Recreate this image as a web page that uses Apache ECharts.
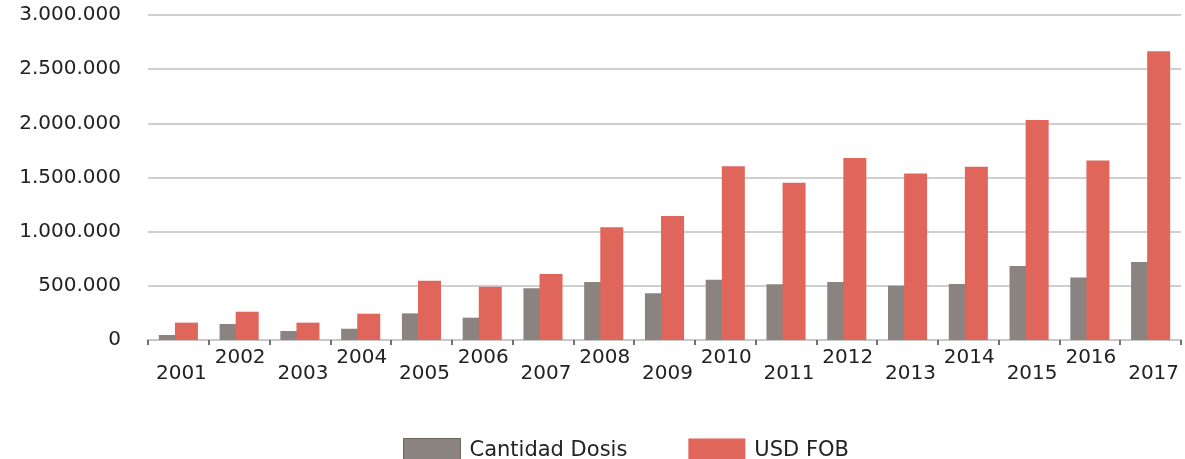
<!DOCTYPE html>
<html><head><meta charset="utf-8">
<script src="https://cdn.jsdelivr.net/npm/echarts@6/dist/echarts.min.js"></script>
<style>html,body{margin:0;padding:0;background:#fff}#c{width:1185px;height:459px}</style>
</head><body><div id="c"></div>
<script>
const categories = ['2001','2002','2003','2004','2005','2006','2007','2008','2009','2010','2011','2012','2013','2014','2015','2016','2017'];
const cantidadDosis = [46000,148000,83000,104000,246000,206000,477000,535000,431000,556000,514000,535000,501000,517000,683000,578000,720000];
const usdFob = [160000,261000,160000,243000,547000,492000,609000,1040000,1144000,1605000,1451000,1679000,1538000,1599000,2030000,1658000,2666000];
const seriesNames = ['Cantidad Dosis','USD FOB'];
const yTicks = [0,500000,1000000,1500000,2000000,2500000,3000000];

const font = 'DejaVu Sans';
const fmt = v => String(v).replace(/\B(?=(\d{3})+(?!\d))/g, '.');
const chart = echarts.init(document.getElementById('c'));
chart.setOption({
  animation: false,
  grid: {left: 148, right: 4, top: 15, bottom: 119},
  xAxis: {
    type: 'category', data: categories,
    axisLine: {lineStyle: {color: '#c8c8c8', width: 2}},
    axisTick: {show: true, length: 5, lineStyle: {color: '#444', width: 1.5}},
    axisLabel: {
      interval: 0, margin: 6, color: '#222', fontFamily: font, fontSize: 20,
      formatter: (v, i) => i % 2 === 0 ? '{lo|' + v + '}' : '{hi|' + v + '}',
      rich: {
        lo: {fontFamily: font, fontSize: 20, color: '#222', padding: [18, 0, 0, 6]},
        hi: {fontFamily: font, fontSize: 20, color: '#222', padding: [2, 0, 0, 2]}
      }
    }
  },
  yAxis: {
    type: 'value', min: yTicks[0], max: yTicks[yTicks.length-1], interval: 500000,
    axisLine: {show: false}, axisTick: {show: false},
    splitLine: {lineStyle: {color: '#cfcfcf', width: 2}},
    axisLabel: {margin: 27, color: '#222', fontFamily: font, fontSize: 20, formatter: fmt}
  },
  legend: {
    top: 438, left: 403, padding: 0, itemWidth: 57, itemHeight: 24, itemGap: 61, icon: 'rect',
    textStyle: {fontFamily: font, fontSize: 21, color: '#222', padding: [0,0,0,4], verticalAlign: 'top', lineHeight: 16},
    data: [
      {name: seriesNames[0], itemStyle: {borderColor: '#6b6658', borderWidth: 1}},
      {name: seriesNames[1]}
    ]
  },
  series: [
    {name: seriesNames[0], type: 'bar', data: cantidadDosis, barWidth: 23, barGap: '-30%',
     itemStyle: {color: '#8b8380'}},
    {name: seriesNames[1], type: 'bar', data: usdFob, barWidth: 23,
     itemStyle: {color: '#e0655b'}}
  ]
});
</script></body></html>
